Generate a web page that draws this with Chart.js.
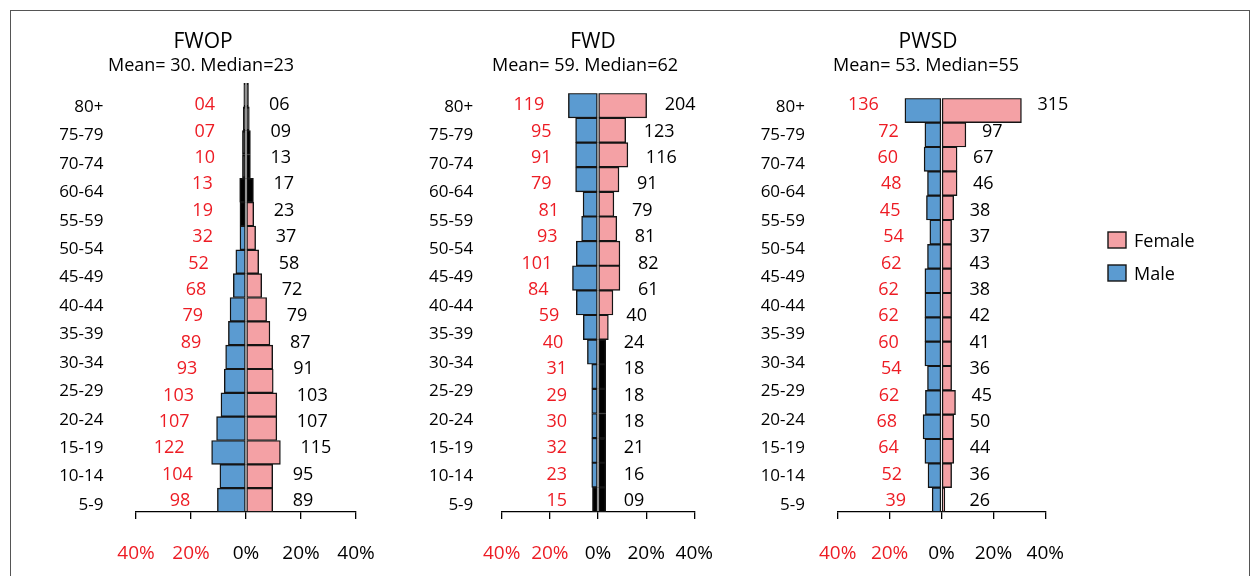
<!DOCTYPE html>
<html><head><meta charset="utf-8">
<script src="https://cdn.jsdelivr.net/npm/chart.js@4.4.1/dist/chart.umd.min.js"></script>
<style>
html,body{margin:0;padding:0;background:#fff;}
#wrap{position:relative;width:1256px;height:576px;overflow:hidden;background:#fff;}
#frame{position:absolute;left:10px;top:10px;width:1240px;height:620px;border:1px solid #555;box-sizing:border-box;}
canvas{position:absolute;top:0;}
</style></head><body>
<div id="wrap">
<div id="frame"></div>
<canvas id="c1" width="420" height="576" style="left:0px"></canvas>
<canvas id="c2" width="340" height="576" style="left:420px"></canvas>
<canvas id="c3" width="496" height="576" style="left:760px"></canvas>
</div>
<script>
// ---------- DATA ----------
const ageLabels = ['80+','75-79','70-74','60-64','55-59','50-54','45-49','40-44','35-39','30-34','25-29','20-24','15-19','10-14','5-9'];
const panelNames = ['FWOP','FWD','PWSD'];
const panelStats = ['Mean= 30. Median=23','Mean= 59. Median=62','Mean= 53. Median=55'];
const xTickValues = [-40,-20,0,20,40];
const legendLabels = ['Female','Male'];

// FWOP
const fwopMaleCounts   = ['04','07','10','13','19','32','52','68','79','89','93','103','107','122','104','98'];
const fwopFemaleCounts = ['06','09','13','17','23','37','58','72','79','87','91','103','107','115','95','89'];
const fwopMalePct   = [0.8,1.0,1.3,1.3,2.3,2.2,2.2,3.7,4.6,5.8,6.4,7.4,7.9,9.1,10.7,12.5,9.5,10.4];
const fwopFemalePct = [0.9,1.2,1.6,1.6,2.7,2.8,3.5,4.6,5.7,7.5,8.7,9.7,9.9,11.2,11.2,12.5,9.7,9.7];

// FWD
const fwdMaleCounts   = ['119','95','91','79','81','93','101','84','59','40','31','29','30','32','23','15'];
const fwdFemaleCounts = ['204','123','116','91','79','81','82','61','40','24','18','18','18','21','16','09'];
const fwdMalePct   = [12.3,9.3,9.3,9.3,6.2,6.8,9.0,10.6,9.0,6.1,4.4,2.6,2.6,2.6,2.6,2.6,2.3];
const fwdFemalePct = [20.2,11.5,12.4,8.7,6.6,7.8,9.1,9.1,6.2,4.3,3.2,3.2,3.2,3.2,3.2,3.2,3.2];

// PWSD
const pwsdMaleCounts   = ['136','72','60','48','45','54','62','62','62','60','54','62','68','64','52','39'];
const pwsdFemaleCounts = ['315','97','67','46','38','37','43','38','42','41','36','45','50','44','36','26'];
const pwsdMalePct   = [14.1,6.4,6.7,5.4,5.8,4.5,5.4,6.4,6.4,6.4,6.4,5.4,6.2,7.1,6.4,5.2,3.6];
const pwsdFemalePct = [30.8,9.4,6.0,6.0,4.7,3.9,3.9,3.9,3.9,3.9,3.9,3.9,5.4,4.7,4.7,3.9,1.3];

// ---------- STYLE / LAYOUT ----------
const RED = '#ED1C24', INK = '#000000', BLUE = '#5B9BD1', PINK = '#F4A1A5', EDGE = '#141414';
const FONT = "'Open Sans', sans-serif";
Chart.defaults.font.family = FONT;
const L = { ageTop:107, ageBottom:505, valTop:105, valBottom:501, titleY:42, subY:66, axisH:64 };

const panels = [
  { id:'c1', name:panelNames[0], stats:panelStats[0], maleCounts:fwopMaleCounts, femaleCounts:fwopFemaleCounts,
    malePct:fwopMalePct, femalePct:fwopFemalePct, maleBlack:[0,1,2,3,4,5], femaleBlack:[0,1,2,3,4],
    canvasLeft:0, pad:{left:136,right:64,top:83}, titleX:203, subX:201, ageGap:32.5,
    redBase:-31, redGap:27, blackBase:23, blackGap:20 },
  { id:'c2', name:panelNames[1], stats:panelStats[1], maleCounts:fwdMaleCounts, femaleCounts:fwdFemaleCounts,
    malePct:fwdMalePct, femalePct:fwdFemalePct, maleBlack:[16], femaleBlack:[10,11,12,13,14,15,16],
    canvasLeft:420, pad:{left:81.7,right:65.7,top:93.3}, titleX:593, subX:585, ageGap:28.4,
    redBase:-31, redGap:24, blackBase:24, blackGap:18 },
  { id:'c3', name:panelNames[2], stats:panelStats[2], maleCounts:pwsdMaleCounts, femaleCounts:pwsdFemaleCounts,
    malePct:pwsdMalePct, femalePct:pwsdFemalePct, maleBlack:[], femaleBlack:[],
    canvasLeft:760, pad:{left:77.7,right:210.7,top:98.3}, titleX:928, subX:926, ageGap:32.7,
    redBase:-35, redGap:26, blackBase:28, blackGap:16, legend:true }
];

function textPlugin(p){
  return {
    id:'txt_'+p.name,
    afterDraw(chart){
      const ctx = chart.ctx, xs = chart.scales.x, ys = chart.scales.y;
      const off = p.canvasLeft;
      ctx.save();
      ctx.textBaseline = 'middle';
      ctx.fillStyle = INK; ctx.textAlign = 'center';
      ctx.font = "21px " + FONT; ctx.fillText(p.name, p.titleX - off, L.titleY);
      ctx.font = "18px " + FONT; ctx.fillText(p.stats, p.subX - off, L.subY);
      // age group labels
      ctx.font = "17px " + FONT; ctx.textAlign = 'right';
      const n = ageLabels.length;
      ageLabels.forEach((t,i)=>{
        const y = L.ageTop + i*(L.ageBottom-L.ageTop)/(n-1);
        ctx.fillText(t, xs.left - p.ageGap, y);
      });
      // value labels
      ctx.font = "18px " + FONT;
      const zero = xs.getPixelForValue(0);
      const nv = p.maleCounts.length;
      const nr = chart.data.labels.length;
      for (let i=0;i<nv;i++){
        const y = L.valTop + i*(L.valBottom-L.valTop)/(nv-1);
        let best=0, bd=1e9;
        for (let j=0;j<nr;j++){ const d=Math.abs(ys.getPixelForValue(j)-y); if(d<bd){bd=d;best=j;} }
        const tipM = xs.getPixelForValue(-p.malePct[best]);
        const tipF = xs.getPixelForValue(p.femalePct[best]);
        ctx.fillStyle = RED; ctx.textAlign = 'right';
        ctx.fillText(p.maleCounts[i], Math.min(zero + p.redBase, tipM - p.redGap), y);
        ctx.fillStyle = INK; ctx.textAlign = 'left';
        ctx.fillText(p.femaleCounts[i], Math.max(zero + p.blackBase, tipF + p.blackGap), y);
      }
      if (p.legend){
        const items = [[legendLabels[0], PINK, 232],[legendLabels[1], BLUE, 265]];
        ctx.font = "18px " + FONT; ctx.textAlign = 'left';
        items.forEach(([t,c,y])=>{
          ctx.fillStyle = c; ctx.fillRect(1108-off, y, 18, 16);
          ctx.strokeStyle = EDGE; ctx.lineWidth = 1.4; ctx.strokeRect(1108-off, y, 18, 16);
          ctx.fillStyle = INK; ctx.fillText(t, 1134-off, y+10);
        });
      }
      ctx.restore();
    }
  };
}

panels.forEach(p=>{
  const rows = p.malePct.map((_,i)=>'r'+(i+1));
  const maleColors = p.malePct.map((_,i)=> p.maleBlack.includes(i) ? '#000' : BLUE);
  const femaleColors = p.femalePct.map((_,i)=> p.femaleBlack.includes(i) ? '#000' : PINK);
  new Chart(document.getElementById(p.id), {
    type:'bar',
    data:{ labels: rows, datasets:[
      { label:'Male', data: p.malePct.map(v=>-v), backgroundColor: maleColors, borderColor: EDGE,
        borderWidth:1.4, borderSkipped:false, barPercentage:1, categoryPercentage:1 },
      { label:'Female', data: p.femalePct, backgroundColor: femaleColors, borderColor: EDGE,
        borderWidth:1.4, borderSkipped:false, barPercentage:1, categoryPercentage:1 }
    ]},
    options:{
      indexAxis:'y', responsive:false, animation:false, events:[],
      layout:{ padding:{ left:p.pad.left, right:p.pad.right, top:p.pad.top, bottom:0 } },
      plugins:{ legend:{display:false}, tooltip:{enabled:false} },
      scales:{
        y:{ stacked:true, display:false },
        x:{ stacked:true, min:xTickValues[0], max:xTickValues[xTickValues.length-1],
            afterBuildTicks: s => { s.ticks = xTickValues.map(v=>({value:v})); },
            afterFit: s => { s.height = L.axisH; },
            ticks:{ callback: v => Math.abs(v)+'%', color: c => (c.tick && c.tick.value<0) ? RED : INK,
                    font:{size:19}, padding:23, maxRotation:0, autoSkip:false },
            grid:{ drawOnChartArea:false, drawTicks:true, tickLength:7, color:INK, lineWidth:1.3 },
            border:{ display:true, color:INK, width:1.3 } }
      }
    },
    plugins:[textPlugin(p)]
  });
});
</script>
</body></html>
